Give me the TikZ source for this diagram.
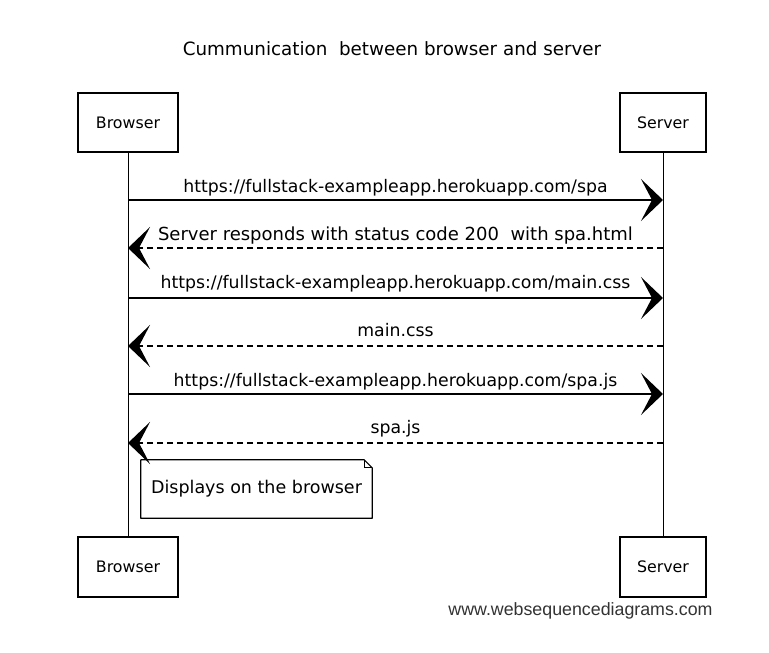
\documentclass[tikz,border=0pt]{standalone}
\usepackage{fontspec}
\setmainfont{DejaVu Sans}
\newfontfamily\webfont{Liberation Sans}
\usetikzlibrary{arrows.meta,calc}
\tikzset{
  actor/.style={draw, line width=1.2pt, minimum width=100pt, minimum height=59pt, inner sep=0pt, font=\fontsize{15.8}{18}\selectfont},
  lifeline/.style={line width=0.9pt},
  msg/.style={line width=1.5pt, -{Stealth[length=22pt,width=42pt,inset=11pt]}},
  reply/.style={msg, dash pattern=on 6pt off 4pt},
  lbl/.style={anchor=base, inner sep=0pt, font=\fontsize{17.3}{20}\selectfont},
}
\begin{document}
\begin{tikzpicture}[x=1pt,y=-1pt]
\useasboundingbox (0,0) rectangle (769,653);
\fill[white] (0,0) rectangle (769,653);
\node[anchor=base, inner sep=0pt, font=\fontsize{18.3}{20}\selectfont] (title) at (392,56) {Cummunication\ \ between browser and server};
\node[actor] (bt) at (128,122.5) {Browser};
\node[actor, minimum width=86pt] (st) at (663,122.5) {Server};
\node[actor, minimum height=60pt] (bb) at (128,567) {Browser};
\node[actor, minimum width=86pt, minimum height=60pt] (sb) at (663,567) {Server};
\draw[lifeline] (bt.south) -- (bb.north);
\draw[lifeline] (st.south) -- (sb.north);
\foreach \n/\y in {1/200,2/248,3/298,4/346,5/394,6/443}{
  \coordinate (b\n) at (128,\y);
  \coordinate (s\n) at (663,\y);
}
\draw[msg] (b1) -- node[lbl, yshift=8pt] (l1) {https://fullstack-exampleapp.herokuapp.com/spa} (s1);
\draw[reply] (s2) -- node[lbl, yshift=8pt, font=\fontsize{18}{20}\selectfont] (l2) {Server responds with status code 200\ \ with spa.html} (b2);
\draw[msg] (b3) -- node[lbl, yshift=10pt] (l3) {https://fullstack-exampleapp.herokuapp.com/main.css} (s3);
\draw[reply] (s4) -- node[lbl, yshift=10pt] (l4) {main.css} (b4);
\draw[msg] (b5) -- node[lbl, yshift=8pt] (l5) {https://fullstack-exampleapp.herokuapp.com/spa.js} (s5);
\draw[reply] (s6) -- node[lbl, yshift=10pt] (l6) {spa.js} (b6);
\node[minimum width=231pt, minimum height=58pt, inner sep=0pt, font=\fontsize{17.5}{20}\selectfont] (nt) at (256.5,489) {Displays on the browser};
\draw[line width=1.2pt, line join=round] (nt.north west) -- ([xshift=-8pt]nt.north east) -- ([yshift=-8pt]nt.north east) -- (nt.south east) -- (nt.south west) -- cycle;
\draw[line width=0.8pt] ([xshift=-8pt]nt.north east) -- ([xshift=-8pt,yshift=-8pt]nt.north east) -- ([yshift=-8pt]nt.north east);
\node[anchor=base, inner sep=0pt, text=black!80, font=\webfont\fontsize{17.8}{20}\selectfont] (web) at (580.5,615) {www.websequencediagrams.com};
\end{tikzpicture}
\end{document}
